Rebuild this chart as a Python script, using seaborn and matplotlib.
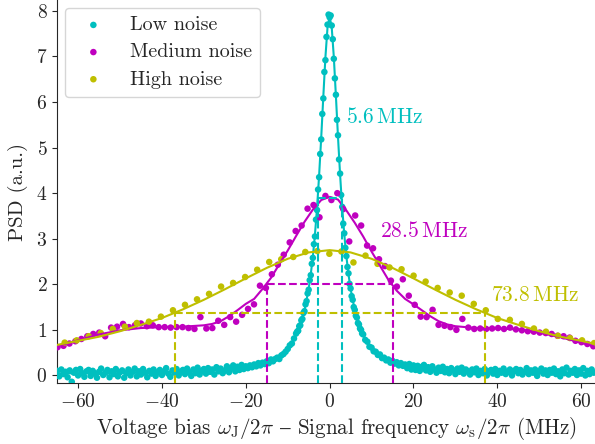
import numpy as np
import matplotlib
matplotlib.use('Agg')
import matplotlib.pyplot as plt
import seaborn as sns

# ---- data ----
# low noise: frequency grid (MHz) in three parts, PSD values typed in
low_x_left = np.arange(-65.0, -8.4, 0.5)
low_y_left = [0.10, -0.02, 0.13, 0.03, 0.08, -0.04, 0.11, -0.14, 0.06, 0.12,
              0.00, 0.14, 0.05, -0.03, 0.09, 0.12, -0.01, 0.10, 0.04, -0.05,
              0.08, 0.15, 0.01, 0.06, 0.12, -0.04, 0.09, 0.03, 0.14, -0.02,
              0.07, 0.11, -0.05, 0.05, 0.13, 0.00, 0.08, 0.15, -0.02, 0.09,
              0.02, 0.14, 0.06, -0.04, 0.10, 0.04, 0.13, -0.01, 0.07, 0.12,
              0.01, 0.09, 0.16, 0.04, -0.03, 0.11, 0.06, 0.14, 0.00, 0.08,
              0.12, 0.03, 0.15, 0.07, -0.01, 0.13, 0.05, 0.17, 0.02, 0.10,
              0.14, 0.04, 0.16, 0.08, 0.13, 0.02, 0.18, 0.09, 0.15, 0.05,
              0.11, 0.20, 0.07, 0.16, 0.22, 0.09, 0.19, 0.12, 0.23, 0.14,
              0.20, 0.16, 0.22, 0.18, 0.24, 0.20, 0.27, 0.22, 0.28, 0.25,
              0.31, 0.27, 0.35, 0.31, 0.36, 0.39, 0.36, 0.44, 0.47, 0.52,
              0.58, 0.66, 0.70, 0.81]
low_x_core = np.arange(-8.0, 8.01, 0.25)
low_y_core = [0.92, 0.96, 0.98, 1.08, 1.10, 1.21, 1.24, 1.37, 1.41, 1.56,
              1.63, 1.80, 1.88, 2.09, 2.20, 2.45, 2.58, 2.88, 3.05, 3.42,
              3.63, 4.08, 4.35, 4.86, 5.18, 5.74, 6.08, 6.66, 6.92, 7.43,
              7.70, 7.92, 7.86,
              7.90, 7.68, 7.38, 6.95, 6.52, 6.16, 5.61, 5.27, 4.74, 4.43,
              3.96, 3.70, 3.33, 3.12, 2.80, 2.62, 2.38, 2.24, 2.01, 1.91,
              1.74, 1.66, 1.50, 1.44, 1.31, 1.27, 1.15, 1.12, 1.03, 1.00,
              0.92, 0.90]
low_x_right = np.arange(8.5, 63.01, 0.5)
low_y_right = [0.78, 0.74, 0.63, 0.61, 0.53, 0.52, 0.45, 0.46, 0.38, 0.39,
               0.33, 0.35, 0.28, 0.32, 0.26, 0.29, 0.22, 0.27, 0.21, 0.24,
               0.16, 0.25, 0.13, 0.22, 0.12, 0.21, 0.10, 0.19, 0.23, 0.11,
               0.18, 0.08, 0.20, 0.13, 0.06, 0.17, 0.10, 0.19, 0.07, 0.14,
               0.05, 0.16, 0.11, 0.03, 0.15, 0.08, 0.17, 0.04, 0.13, 0.09,
               0.02, 0.13, 0.07, 0.15, 0.01, 0.10, 0.05, 0.14, 0.00, 0.09,
               0.12, 0.04, 0.14, 0.01, 0.10, 0.06, 0.15, 0.03, 0.08, 0.13,
               0.00, 0.10, 0.14, 0.05, 0.12, 0.02, 0.08, 0.16, 0.03, 0.11,
               0.06, 0.13, -0.01, 0.09, 0.15, 0.04, 0.11, 0.01, 0.12, 0.06,
               0.15, 0.03, 0.09, -0.02, 0.13, 0.05, 0.17, 0.02, 0.10, 0.06,
               0.14, 0.01, 0.11, 0.04, 0.16, 0.00, 0.10, 0.03, 0.13, 0.06]
low_x = np.concatenate([low_x_left, low_x_core, low_x_right])
low_y = np.array(low_y_left + low_y_core + low_y_right)

low_fit_x = [-65, -60, -55, -50, -45, -40, -35, -30, -25, -20,
             -18, -16, -14, -12, -10, -9, -8, -7, -6, -5,
             -4.5, -4, -3.5, -3, -2.5, -2, -1.5, -1, -0.5, 0,
             0.5, 1, 1.5, 2, 2.5, 3, 3.5, 4, 4.5, 5, 6, 7, 8, 9, 10,
             12, 14, 16, 18, 20, 25, 30, 35, 40, 45, 50, 55, 60, 63]
low_fit_y = [0.04, 0.05, 0.05, 0.05, 0.06, 0.07, 0.08, 0.10, 0.13, 0.18,
             0.22, 0.26, 0.33, 0.44, 0.60, 0.72, 0.89, 1.11, 1.43, 1.90,
             2.22, 2.61, 3.09, 3.68, 4.40, 5.23, 6.13, 6.99, 7.64, 7.88,
             7.64, 6.99, 6.13, 5.23, 4.40, 3.68, 3.09, 2.61, 2.22, 1.90,
             1.43, 1.11, 0.89, 0.72, 0.60,
             0.44, 0.33, 0.26, 0.22, 0.18, 0.13, 0.10, 0.08, 0.07, 0.06,
             0.05, 0.05, 0.05, 0.05]

# medium noise
med_x = np.arange(-64.9, 63.0, 1.42)
med_y = [0.62, 0.65, 0.70, 0.75, 0.80, 0.86, 0.91, 0.94, 0.86, 1.05,
         1.07, 1.13, 1.06, 1.10, 1.14, 1.08, 1.10, 1.06, 1.06, 1.05,
         1.06, 1.06, 1.04, 1.02, 1.28, 1.03, 1.04, 1.20, 1.11, 1.28,
         1.18, 1.33, 1.46, 1.56, 1.97, 1.92, 2.22, 2.43, 2.65, 2.92,
         3.17, 3.29, 3.66, 3.74, 3.47, 3.94, 3.85, 4.00, 3.65, 2.94,
         3.51, 3.29, 2.85, 2.79, 2.55, 2.40, 2.08, 1.95, 2.11, 1.75,
         1.55, 1.29, 1.28, 1.44, 1.11, 1.09, 1.06, 1.00, 1.24, 1.05,
         1.02, 1.03, 1.02, 1.03, 1.04, 1.02, 1.05, 1.01, 0.99, 0.97,
         0.96, 0.94, 0.93, 0.91, 0.87, 0.86, 0.83, 0.76, 0.73, 0.69,
         0.64]
med_fit_x = [-65, -60, -55, -50, -45, -40, -35, -30, -28, -26, -24, -22,
             -20, -18, -16, -14, -12, -10, -8, -6, -4, -2, 0, 2, 4, 6, 8,
             10, 12, 14, 16, 18, 20, 22, 24, 26, 28, 30, 35, 40, 45, 50,
             55, 60, 63]
med_fit_y = [0.64, 0.77, 0.90, 0.99, 1.04, 1.06, 1.07, 1.10, 1.13, 1.19,
             1.30, 1.43, 1.57, 1.68, 1.90, 2.14, 2.44, 2.74, 3.06, 3.37,
             3.64, 3.85, 3.92, 3.86, 3.62, 3.35, 3.05, 2.72, 2.41, 2.10,
             1.86, 1.68, 1.56, 1.43, 1.30, 1.19, 1.12, 1.08, 1.04, 1.03,
             1.01, 0.94, 0.84, 0.72, 0.64]

# high noise
high_x = np.arange(-63.2, 63.1, 2.87)
high_y = [0.72, 0.77, 0.86, 0.93, 1.02, 1.07, 1.15, 1.18, 1.29, 1.43,
          1.55, 1.67, 1.79, 1.95, 2.03, 2.16, 2.32, 2.49, 2.55, 2.60,
          2.71, 2.73, 2.67, 2.72, 2.48, 2.63, 2.45, 2.37, 2.33, 2.19,
          2.06, 1.92, 1.82, 1.75, 1.57, 1.43, 1.24, 1.22, 1.13, 1.03,
          0.96, 0.87, 0.82, 0.77, 0.71]
high_fit_x = [-65, -60, -55, -50, -45, -40, -35, -30, -25, -20, -15, -10,
              -5, 0, 5, 10, 15, 20, 25, 30, 35, 40, 45, 50, 55, 60, 63]
high_fit_y = [0.67, 0.76, 0.85, 0.97, 1.11, 1.26, 1.45, 1.66, 1.89, 2.13,
              2.36, 2.56, 2.70, 2.75, 2.70, 2.56, 2.36, 2.13, 1.89, 1.66,
              1.45, 1.26, 1.11, 0.97, 0.85, 0.76, 0.70]

# linewidth markers (half width, half height) and labels
labels = ['Low noise', 'Medium noise', 'High noise']
colors = ['c', 'm', 'y']
half_width = [2.85, 15.0, 37.0]
half_height = [3.9, 2.0, 1.38]
fwhm_text = ['5.6', '28.5', '73.8']
text_x = [4.0, 12.1, 38.4]
text_y = [5.67, 3.16, 1.77]

sns.set_style('ticks')
plt.rcParams['font.family'] = ['cmr10', 'DejaVu Serif']
plt.rcParams['mathtext.fontset'] = 'cm'
plt.rcParams['axes.formatter.use_mathtext'] = True
plt.rcParams['font.size'] = 14

fig = plt.figure(figsize=(5.95, 4.44), dpi=100)
ax = fig.add_axes([0.096, 0.137, 0.904, 0.863])

xlim = (-65, 63.3)
ylim = (-0.17, 8.24)

series = [(low_x, low_y, low_fit_x, low_fit_y),
          (med_x, med_y, med_fit_x, med_fit_y),
          (high_x, high_y, high_fit_x, high_fit_y)]

for (px, py, fx, fy), lab, col in zip(series, labels, colors):
    sns.scatterplot(x=px, y=py, color=col, s=22, edgecolor='none',
                    label=lab, ax=ax, zorder=3)
for (px, py, fx, fy), col in zip(series, colors):
    sns.lineplot(x=fx, y=fy, color=col, lw=1.5, estimator=None,
                 sort=False, ax=ax, zorder=4)

# half-maximum markers
for hw, hh, col in zip(half_width, half_height, colors):
    ax.hlines(hh, -hw, hw, colors=col, linestyles='--', lw=1.5, zorder=5)
    ax.vlines([-hw, hw], ylim[0], hh, colors=col, linestyles='--', lw=1.5,
              zorder=5)

for tx, ty, t, col in zip(text_x, text_y, fwhm_text, colors):
    ax.text(tx, ty, r'$%s\,\mathrm{MHz}$' % t, color=col, ha='left',
            va='center', fontsize=15.5)

ax.set_xlim(*xlim)
ax.set_ylim(*ylim)
ax.set_xticks([-60, -40, -20, 0, 20, 40, 60])
ax.set_yticks(range(0, 9))
ax.set_xlabel(r'Voltage bias $\omega_\mathrm{J}/2\pi$ $–$ Signal frequency '
              r'$\omega_\mathrm{s}/2\pi$ (MHz)', fontsize=15.2, labelpad=3)
ax.xaxis.label.set_x(0.52)
ax.set_ylabel('PSD (a.u.)', fontsize=15, labelpad=6)
ax.tick_params(labelsize=14)
sns.despine(ax=ax)

leg = ax.legend(loc='upper left', fontsize=14.5, frameon=True,
                borderaxespad=0.4, labelspacing=0.45)
leg.get_frame().set_edgecolor('#cccccc')

fig.savefig('out.png', dpi=100)
